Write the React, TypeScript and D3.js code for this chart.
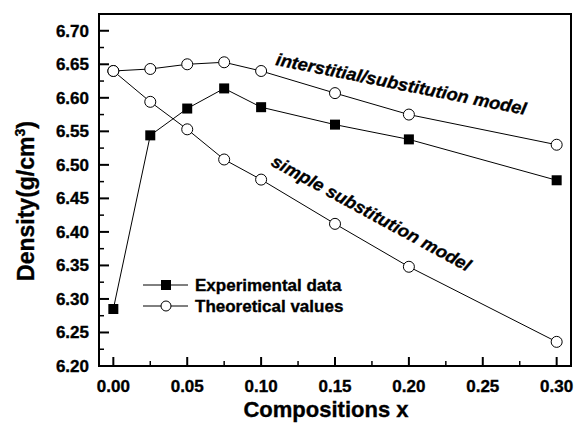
import React from "react";
import * as d3 from "d3";

const xValues = [0, 0.025, 0.05, 0.075, 0.1, 0.15, 0.2, 0.3];
const experimental = [6.285, 6.544, 6.584, 6.614, 6.586, 6.560, 6.538, 6.477];
const interstitialModel = [6.640, 6.643, 6.650, 6.653, 6.640, 6.607, 6.575, 6.530];
const simpleModel = [6.640, 6.594, 6.553, 6.508, 6.478, 6.412, 6.348, 6.236];
const xTicks = [0, 0.05, 0.1, 0.15, 0.2, 0.25, 0.3];
const yTicks = [6.2, 6.25, 6.3, 6.35, 6.4, 6.45, 6.5, 6.55, 6.6, 6.65, 6.7];
const legendLabels = ["Experimental data", "Theoretical values"];

const W = 576, H = 424;
const L = 99, R = 571, T = 14, B = 366;
const FONT = "Arial, 'Liberation Sans', sans-serif";
const heavy = { stroke: "#000", strokeWidth: 0.35 };

export default function App() {
  const x = d3.scaleLinear().domain([-0.0097, 0.3097]).range([L, R]);
  const y = d3.scaleLinear().domain([6.2, 6.725]).range([B, T]);
  const line = d3.line<[number, number]>().x(d => x(d[0])).y(d => y(d[1]));
  const pts = (vals: number[]) => xValues.map((v, i) => [v, vals[i]] as [number, number]);
  const xMinor = d3.range(0.025, 0.31, 0.05);
  const yMinor = d3.range(6.225, 6.72, 0.05);

  return (
    <svg width={W} height={H} style={{ position: "absolute", left: 0, top: 0, background: "#fff" }}>
      <rect x={0} y={0} width={W} height={H} fill="#fff" />
      {[experimental, interstitialModel, simpleModel].map((s, i) => (
        <path key={i} d={line(pts(s)) || ""} fill="none" stroke="#000" strokeWidth={1} />
      ))}
      {pts(interstitialModel).concat(pts(simpleModel)).map((p, i) => (
        <circle key={"c" + i} cx={x(p[0])} cy={y(p[1])} r={5.5} fill="#fff" stroke="#000" strokeWidth={1} />
      ))}
      {pts(experimental).map((p, i) => (
        <rect key={"s" + i} x={x(p[0]) - 5} y={y(p[1]) - 5} width={10} height={10} fill="#000" />
      ))}
      <rect x={L} y={T} width={R - L} height={B - T} fill="none" stroke="#000" strokeWidth={2} />
      {xTicks.map(t => (
        <g key={"xt" + t}>
          <line x1={x(t)} x2={x(t)} y1={B} y2={B - 9} stroke="#000" strokeWidth={2} />
          <text x={x(t)} y={B + 26} textAnchor="middle" fontFamily={FONT} fontWeight="bold" fontSize={17} {...heavy}>{t.toFixed(2)}</text>
        </g>
      ))}
      {xMinor.map(t => (
        <line key={"xm" + t} x1={x(t)} x2={x(t)} y1={B} y2={B - 5} stroke="#000" strokeWidth={1.5} />
      ))}
      {yTicks.map(t => (
        <g key={"yt" + t}>
          <line x1={L} x2={L + 10} y1={y(t)} y2={y(t)} stroke="#000" strokeWidth={2} />
          <text x={L - 10} y={y(t) + 6} textAnchor="end" fontFamily={FONT} fontWeight="bold" fontSize={17} {...heavy}>{t.toFixed(2)}</text>
        </g>
      ))}
      {yMinor.map(t => (
        <line key={"ym" + t} x1={L} x2={L + 5} y1={y(t)} y2={y(t)} stroke="#000" strokeWidth={1.5} />
      ))}
      <text x={326} y={417} textAnchor="middle" fontFamily={FONT} fontWeight="bold" fontSize={22} {...heavy}>Compositions x</text>
      <text transform={`translate(34,201) rotate(-90)`} textAnchor="middle" fontFamily={FONT} fontWeight="bold" fontSize={23} {...heavy}>
        Density(g/cm<tspan dy={-9} fontSize={14}>3</tspan><tspan dy={9}>)</tspan>
      </text>
      {legendLabels.map((lab, i) => {
        const ly = 285 + i * 21;
        return (
          <g key={lab}>
            <line x1={143} x2={188} y1={ly} y2={ly} stroke="#000" strokeWidth={1} />
            {i === 0 ? (
              <rect x={161} y={ly - 5} width={10} height={10} fill="#000" />
            ) : (
              <circle cx={166} cy={ly} r={5} fill="#fff" stroke="#000" strokeWidth={1} />
            )}
            <text x={195} y={ly + 6} fontFamily={FONT} fontWeight="bold" fontSize={17} {...heavy}>{lab}</text>
          </g>
        );
      })}
      <text transform="translate(275,65) rotate(11.3)" fontFamily={FONT} fontWeight="bold" fontStyle="italic" fontSize={17.5} textLength={255} lengthAdjust="spacingAndGlyphs" {...heavy}>interstitial/substitution model</text>
      <text transform="translate(270,165) rotate(28.5)" fontFamily={FONT} fontWeight="bold" fontStyle="italic" fontSize={17.5} textLength={224} lengthAdjust="spacingAndGlyphs" {...heavy}>simple substitution model</text>
    </svg>
  );
}
